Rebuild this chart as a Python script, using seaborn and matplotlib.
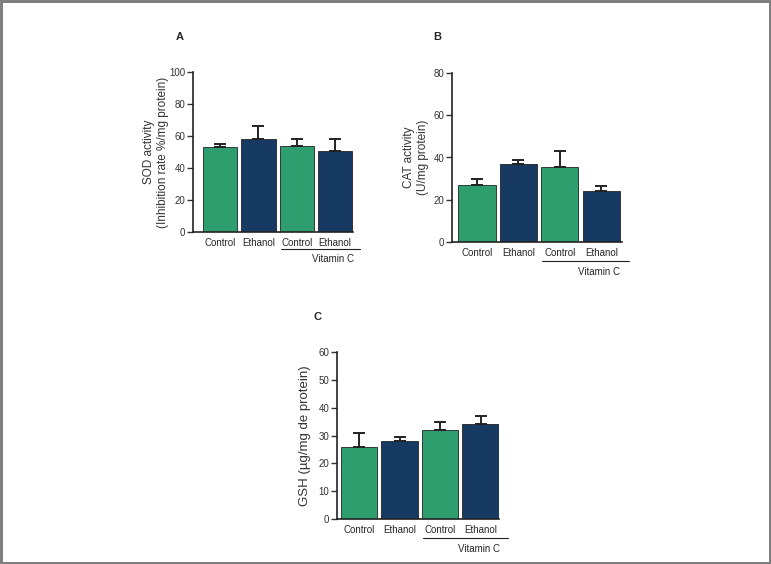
import pandas as pd
import seaborn as sns
import matplotlib.pyplot as plt
import matplotlib.transforms as mtrans
import numpy as np

# group labels and treatment (for colour)
groups = ["Control", "Ethanol", "Control", "Ethanol"]
treat = ["Control", "Ethanol", "Control", "Ethanol"]

# panel A - SOD
sod_mean = [53, 58, 54, 50.5]
sod_err = [2, 8, 4, 7.5]
# panel B - CAT
cat_mean = [27, 37, 35.5, 24]
cat_err = [3, 2, 7.5, 2.5]
# panel C - GSH
gsh_mean = [26, 28, 32, 34]
gsh_err = [5, 1.5, 3, 3]

green = "#2e9e6e"
navy = "#173a63"

sns.set_style("ticks")
plt.rcParams["font.family"] = ["Liberation Sans Narrow", "Liberation Sans", "DejaVu Sans"]

fig = plt.figure(figsize=(7.71, 5.64), dpi=100)
fig.patch.set_edgecolor("#7f7f7f")
fig.patch.set_linewidth(2.5)


def panel(rect, means, errs, ymax, ystep, ylabel, ysize, ylab_x, letter, letter_xy, xlim, line_y):
    ax = fig.add_axes(rect)
    df = pd.DataFrame({"grp": [str(i) for i in range(len(groups))], "val": means, "treat": treat})
    sns.barplot(data=df, x="grp", y="val", hue="treat", palette=[green, navy], dodge=False,
                width=0.9, edgecolor="#222222", linewidth=0.6, legend=False, ax=ax, saturation=1)
    x = np.arange(len(means))
    ax.errorbar(x, means, yerr=[np.zeros(len(errs)), errs], fmt="none", ecolor="#222222",
                elinewidth=1.4, capsize=4.5, capthick=1.4, zorder=1)
    ax.set_ylim(0, ymax)
    ax.set_yticks(np.arange(0, ymax + 1, ystep))
    ax.set_xlim(*xlim)
    ax.set_xticks(x)
    ax.set_xticklabels(groups, fontsize=7)
    ax.tick_params(axis="x", length=0, pad=4.5)
    ax.tick_params(axis="y", length=4.5, width=1, labelsize=7, pad=1, colors="#333333")
    ax.set_xlabel("")
    ax.set_ylabel(ylabel, fontsize=ysize, color="#333333")
    ax.yaxis.set_label_coords(ylab_x, 0.5)
    for s in ["top", "right"]:
        ax.spines[s].set_visible(False)
    for s in ["left", "bottom"]:
        ax.spines[s].set_linewidth(1.2)
        ax.spines[s].set_color("#222222")
    # Vitamin C bracket line under the last two groups
    tr = mtrans.blended_transform_factory(ax.transData, ax.transAxes)
    ax.plot([1.58, 3.66], [line_y, line_y], transform=tr, color="#222222", lw=0.8, clip_on=False)
    ax.text(2.95, line_y - 0.065, "Vitamin C", transform=tr, ha="center", va="center", fontsize=7)
    fig.text(letter_xy[0] / 771, 1 - letter_xy[1] / 564, letter, fontsize=8, fontweight="bold",
             ha="center", va="center", family="Liberation Sans")
    return ax


panel([193 / 771, 1 - 232 / 564, 160 / 771, 160 / 564], sod_mean, sod_err, 100, 20,
      "SOD activity\n(Inhibition rate %/mg protein)", 8.5, -0.150, "A", (180, 37), (-0.71, 3.47), -0.105)
panel([452 / 771, 1 - 242 / 564, 170 / 771, 169 / 564], cat_mean, cat_err, 80, 20,
      "CAT activity\n(U/mg protein)", 8.5, -0.138, "B", (437, 37), (-0.6, 3.5), -0.11)
panel([337 / 771, 1 - 519 / 564, 162 / 771, 167 / 564], gsh_mean, gsh_err, 60, 10,
      "GSH (µg/mg de protein)", 9.5, -0.16, "C", (317, 317), (-0.54, 3.45), -0.115)

fig.savefig("out.png", dpi=100, edgecolor=fig.get_edgecolor())
